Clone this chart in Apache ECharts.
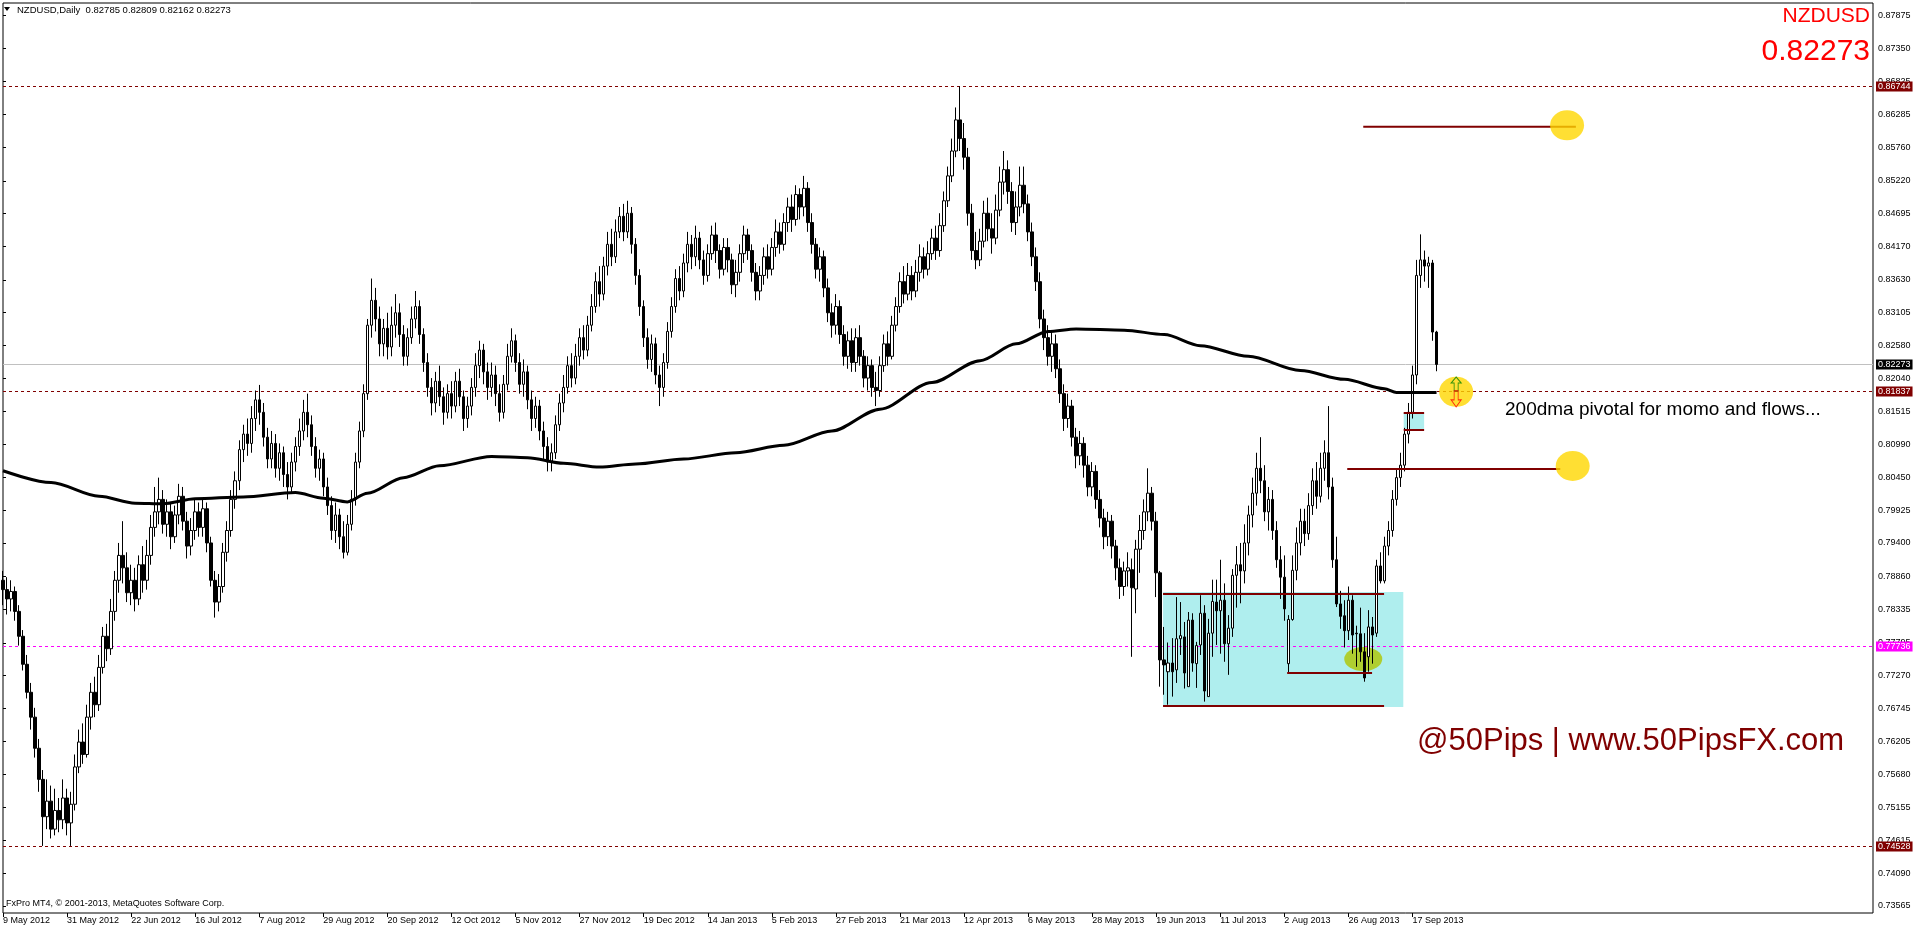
<!DOCTYPE html>
<html><head><meta charset="utf-8">
<script src="https://cdn.jsdelivr.net/npm/echarts@6/dist/echarts.min.js"></script>
<style>html,body{margin:0;padding:0;background:#fff}#c{width:1916px;height:928px}</style>
</head><body><div id="c"></div>
<script>
// x tick labels, one every 16 daily bars
const tickLabels = ['9 May 2012','31 May 2012','22 Jun 2012','16 Jul 2012','7 Aug 2012','29 Aug 2012','20 Sep 2012','12 Oct 2012','5 Nov 2012','27 Nov 2012','19 Dec 2012','14 Jan 2013','5 Feb 2013','27 Feb 2013','21 Mar 2013','12 Apr 2013','6 May 2013','28 May 2013','19 Jun 2013','11 Jul 2013','2 Aug 2013','26 Aug 2013','17 Sep 2013'];
const barsPerTick = 16;
const barSlots = 468; // bars + empty right margin (shift)
// right-axis tick values
const yTicks = [0.87875,0.87350,0.86825,0.86285,0.85760,0.85220,0.84695,0.84170,0.83630,0.83105,0.82580,0.82040,0.81515,0.80990,0.80450,0.79925,0.79400,0.78860,0.78335,0.77795,0.77270,0.76745,0.76205,0.75680,0.75155,0.74615,0.74090,0.73565];
const yMin = 0.73452, yMax = 0.88079;
// daily candles [open, close, low, high] in 1/10000
const candleValues = [
[7880,7865,7840,7895],[7865,7850,7825,7885],[7850,7862,7830,7880],[7862,7830,7815,7870],[7830,7790,7775,7840],
[7790,7745,7735,7800],[7745,7700,7690,7760],[7700,7660,7640,7715],[7660,7610,7595,7675],[7610,7560,7540,7625],
[7560,7500,7453,7575],[7500,7525,7480,7560],[7525,7480,7465,7550],[7480,7510,7470,7545],[7510,7495,7475,7530],
[7495,7530,7480,7560],[7530,7490,7470,7545],[7490,7520,7453,7540],[7520,7580,7510,7600],[7580,7620,7570,7640],
[7620,7600,7585,7650],[7600,7660,7595,7680],[7660,7700,7640,7715],[7700,7680,7660,7725],[7680,7740,7670,7760],
[7740,7790,7730,7805],[7790,7770,7750,7810],[7770,7830,7760,7850],[7830,7880,7815,7895],[7880,7920,7860,7940],
[7920,7900,7875,7975],[7900,7860,7845,7925],[7860,7880,7840,7905],[7880,7850,7830,7900],[7850,7905,7840,7920],
[7905,7880,7860,7935],[7880,7920,7865,7945],[7920,7965,7905,7985],[7965,7990,7950,8030],[7990,8010,7970,8045],
[8010,7970,7955,8025],[7970,7990,7950,8010],[7990,7950,7930,8005],[7950,7985,7940,8000],[7985,8015,7970,8035],
[8015,7975,7960,8030],[7975,7935,7915,7990],[7935,7960,7920,7980],[7960,7990,7945,8010],[7990,7965,7950,8005],
[7965,7995,7950,8010],[7995,7940,7925,8005],[7940,7880,7870,7950],[7880,7845,7820,7895],[7845,7870,7830,7890],
[7870,7925,7860,7940],[7925,7960,7910,7975],[7960,8010,7950,8025],[8010,8040,7995,8055],[8040,8090,8025,8105],
[8090,8115,8070,8130],[8115,8100,8080,8140],[8100,8140,8085,8160],[8140,8170,8120,8185],[8170,8150,8130,8194],
[8150,8110,8095,8165],[8110,8075,8060,8125],[8075,8100,8060,8120],[8100,8060,8045,8115],[8060,8085,8040,8100],
[8085,8050,8030,8095],[8050,8030,8010,8070],[8030,8070,8020,8085],[8070,8095,8055,8110],[8095,8120,8080,8140],
[8120,8150,8105,8170],[8150,8130,8110,8180],[8130,8095,8080,8145],[8095,8060,8045,8110],[8060,8075,8040,8090],
[8075,8030,8015,8085],[8030,8000,7985,8045],[8000,7960,7945,8015],[7960,7985,7940,8005],[7985,7950,7930,7995],
[7950,7925,7915,7975],[7925,7970,7920,7985],[7970,8010,7960,8025],[8010,8070,8000,8085],[8070,8120,8060,8135],
[8120,8180,8110,8195],[8180,8290,8170,8300],[8290,8330,8270,8365],[8330,8300,8280,8350],[8300,8260,8240,8320],
[8260,8285,8240,8300],[8285,8255,8235,8310],[8255,8290,8240,8320],[8290,8310,8270,8340],[8310,8275,8255,8325],
[8275,8240,8225,8290],[8240,8270,8225,8285],[8270,8300,8260,8320],[8300,8320,8285,8345],[8320,8275,8260,8330],
[8275,8230,8215,8285],[8230,8190,8175,8245],[8190,8165,8145,8205],[8165,8200,8150,8215],[8200,8175,8160,8225],
[8175,8150,8130,8190],[8150,8180,8140,8195],[8180,8160,8140,8200],[8160,8200,8150,8215],[8200,8175,8160,8220],
[8175,8140,8120,8185],[8140,8160,8125,8175],[8160,8190,8145,8205],[8190,8225,8175,8245],[8225,8250,8205,8265],
[8250,8215,8195,8260],[8215,8190,8170,8230],[8190,8210,8175,8230],[8210,8180,8160,8225],[8180,8150,8135,8195],
[8150,8195,8140,8210],[8195,8240,8185,8260],[8240,8265,8230,8285],[8265,8230,8215,8275],[8230,8195,8180,8245],
[8195,8215,8175,8235],[8215,8170,8155,8225],[8170,8140,8120,8185],[8140,8160,8125,8175],[8160,8120,8105,8170],
[8120,8095,8075,8135],[8095,8070,8055,8110],[8070,8085,8055,8100],[8085,8130,8075,8145],[8130,8165,8120,8180],
[8165,8190,8150,8210],[8190,8225,8180,8240],[8225,8205,8190,8245],[8205,8240,8195,8260],[8240,8270,8225,8285],
[8270,8250,8235,8290],[8250,8290,8240,8305],[8290,8320,8280,8340],[8320,8360,8310,8375],[8360,8340,8320,8385],
[8340,8385,8330,8400],[8385,8420,8370,8440],[8420,8400,8385,8445],[8400,8440,8390,8460],[8440,8465,8430,8480],
[8465,8440,8425,8485],[8440,8470,8430,8490],[8470,8420,8405,8480],[8420,8370,8355,8430],[8370,8320,8305,8380],
[8320,8270,8255,8330],[8270,8235,8220,8285],[8235,8260,8215,8275],[8260,8210,8195,8270],[8210,8190,8160,8225],
[8190,8230,8175,8245],[8230,8280,8220,8295],[8280,8320,8270,8335],[8320,8365,8310,8380],[8365,8345,8330,8385],
[8345,8390,8335,8405],[8390,8420,8375,8440],[8420,8400,8380,8435],[8400,8430,8385,8450],[8430,8395,8380,8440],
[8395,8370,8355,8410],[8370,8405,8360,8420],[8405,8435,8395,8450],[8435,8410,8390,8455],[8410,8380,8365,8420],
[8380,8415,8370,8430],[8415,8395,8375,8430],[8395,8355,8340,8405],[8355,8375,8335,8395],[8375,8405,8360,8420],
[8405,8435,8390,8450],[8435,8410,8395,8445],[8410,8375,8360,8420],[8375,8345,8330,8390],[8345,8370,8330,8385],
[8370,8400,8355,8415],[8400,8380,8365,8420],[8380,8415,8370,8430],[8415,8440,8400,8460],[8440,8420,8405,8455],
[8420,8455,8410,8470],[8455,8480,8440,8495],[8480,8460,8440,8500],[8460,8500,8450,8515],[8500,8480,8460,8510],
[8480,8510,8465,8530],[8510,8455,8440,8520],[8455,8420,8405,8470],[8420,8380,8365,8430],[8380,8400,8360,8415],
[8400,8350,8335,8410],[8350,8310,8295,8365],[8310,8290,8270,8325],[8290,8320,8275,8340],[8320,8275,8260,8330],
[8275,8240,8225,8290],[8240,8265,8220,8280],[8265,8230,8215,8285],[8230,8270,8215,8285],[8270,8240,8225,8290],
[8240,8205,8190,8250],[8205,8225,8185,8240],[8225,8190,8175,8235],[8190,8185,8160,8215],[8185,8225,8175,8240],
[8225,8260,8215,8275],[8260,8240,8225,8280],[8240,8290,8235,8305],[8290,8320,8280,8335],[8320,8360,8310,8375],
[8360,8340,8325,8385],[8340,8370,8330,8390],[8370,8345,8330,8385],[8345,8375,8335,8395],[8375,8400,8360,8420],
[8400,8380,8365,8415],[8380,8405,8370,8425],[8405,8430,8395,8445],[8430,8410,8395,8450],[8410,8450,8400,8470],
[8450,8490,8440,8505],[8490,8530,8480,8545],[8530,8570,8520,8590],[8570,8620,8560,8640],[8620,8590,8570,8674],
[8590,8560,8540,8615],[8560,8470,8450,8575],[8470,8410,8395,8485],[8410,8395,8380,8440],[8395,8425,8385,8445],
[8425,8470,8415,8490],[8470,8445,8425,8495],[8445,8430,8405,8470],[8430,8475,8420,8500],[8475,8520,8465,8545],
[8520,8540,8500,8570],[8540,8505,8485,8555],[8505,8455,8440,8520],[8455,8480,8435,8505],[8480,8515,8465,8545],
[8515,8485,8470,8545],[8485,8440,8425,8500],[8440,8400,8385,8455],[8400,8360,8345,8415],[8360,8300,8285,8375],
[8300,8270,8250,8315],[8270,8240,8225,8290],[8240,8260,8215,8280],[8260,8220,8205,8275],[8220,8180,8165,8235],
[8180,8140,8120,8195],[8140,8160,8125,8180],[8160,8110,8095,8170],[8110,8080,8060,8125],[8080,8100,8065,8120],
[8100,8065,8045,8110],[8065,8030,8015,8080],[8030,8055,8015,8070],[8055,8010,7995,8065],[8010,7980,7965,8025],
[7980,7950,7930,7995],[7950,7975,7935,7990],[7975,7935,7915,7985],[7935,7900,7880,7945],[7900,7870,7850,7915],
[7870,7895,7855,7910],[7895,7900,7870,7925],[7897,7868,7757,7915],[7866,7930,7827,7945],[7930,7960,7892,7985],
[7960,7990,7945,8010],[7990,8020,7975,8060],[8020,7975,7960,8030],[7975,7892,7853,7990],[7892,7752,7709,7895],
[7752,7744,7696,7805],[7733,7747,7680,7780],[7747,7733,7693,7787],[7736,7786,7715,7853],[7786,7791,7760,7845],
[7789,7731,7706,7813],[7709,7816,7709,7829],[7816,7747,7733,7827],[7746,7775,7707,7781],[7776,7827,7760,7856],
[7827,7702,7685,7840],[7693,7795,7693,7818],[7795,7846,7757,7881],[7845,7831,7776,7881],[7831,7848,7762,7913],
[7848,7778,7749,7875],[7778,7803,7728,7824],[7803,7888,7789,7898],[7888,7905,7836,7935],[7905,7895,7843,7940],
[7895,7940,7875,7970],[7940,7985,7920,8000],[7985,8020,7965,8045],[8020,8060,8000,8085],[8060,8040,8020,8110],
[8040,7990,7975,8065],[7990,8010,7960,8030],[8010,7960,7945,8025],[7960,7913,7900,7975],[7913,7885,7850,7935],
[7885,7834,7815,7920],[7746,7817,7731,7824],[7817,7896,7815,7920],[7896,7940,7880,7965],[7940,7975,7920,7995],
[7975,7955,7935,7995],[7955,8000,7945,8020],[8000,8040,7985,8060],[8040,8015,7995,8070],[8015,8060,8005,8085],
[8060,8085,8040,8105],[8085,8030,8010,8160],[8030,7913,7900,8045],[7913,7842,7837,7950],[7842,7822,7802,7863],
[7823,7799,7772,7848],[7799,7848,7784,7870],[7848,7792,7762,7856],[7795,7794,7741,7807],[7794,7765,7749,7836],
[7765,7723,7717,7795],[7757,7805,7733,7832],[7805,7792,7746,7821],[7795,7903,7789,7913],[7903,7879,7875,7925],
[7879,7935,7875,7950],[7935,7960,7920,7975],[7960,8010,7950,8025],[8010,8045,8000,8060],[8045,8065,8030,8085],
[8065,8115,8055,8125],[8115,8150,8100,8165],[8150,8210,8140,8225],[8210,8370,8195,8395],[8370,8395,8350,8436],
[8395,8385,8360,8410],[8385,8390,8350,8400],[8390,8279,8265,8395],[8279,8227,8216,8281]
];
// 200-day moving average, [bar index, value]
const ma200 = [[0,0.8056],[12,0.8037],[24,0.8015],[33,0.8004],[40,0.8003],[48,0.8011],[60,0.8014],[73,0.8021],[80,0.8012],[86,0.8006],[91,0.8020],[100,0.8045],[109,0.8064],[122,0.8079],[131,0.8077],[140,0.8068],[149,0.8062],[158,0.8067],[170,0.8075],[183,0.8085],[195,0.8097],[207,0.8120],[219,0.8155],[232,0.8198],[244,0.8233],[253,0.8260],[261,0.8280],[268,0.8284],[280,0.8282],[290,0.8275],[299,0.8257],[311,0.8240],[324,0.8217],[335,0.8203],[345,0.8188],[348,0.8182],[358,0.8182]];
// horizontal price lines
const priceLineValues = [0.86744, 0.82273, 0.81837, 0.77736, 0.74528];
const priceLineColors = ['#800000', '#c0c0c0', '#800000', '#ff00ff', '#800000'];
const priceLineLabelBg = ['#800000', '#000000', '#800000', '#ff00ff', '#800000'];
const priceLineDashed = [true, false, true, true, true];
// drawn objects in (bar index, price)
const zones = [[289.7,0.78612,349.7,0.76764],[349.8,0.81489,354.9,0.81216]];
const segments = [[289.7,344.9,0.78580],[289.7,344.9,0.76780],[320.7,341.9,0.77310],[349.8,354.9,0.81489],[349.8,354.9,0.81216],[339.7,392.8,0.86091],[335.7,388.9,0.80589]];
const yellowDots = [[390.6,0.86113],[392.0,0.80637],[362.9,0.81830]];
const olivePoints = [[339.7,0.77535]];
const upArrow = [[362.9,0.81955]];
const downArrow = [[362.9,0.81714]];

const categories = Array.from({length: barSlots}, (_, i) => String(i));
const FONT = '"Liberation Sans", Arial, sans-serif';
const chart = echarts.init(document.getElementById('c'));
const tickShown = (idx) => idx % barsPerTick === 0 && idx / barsPerTick < tickLabels.length;

chart.setOption({
  animation: false,
  backgroundColor: '#ffffff',
  grid: {left: 3, right: 43, top: 3, bottom: 15, show: true, borderColor: '#000', borderWidth: 1, backgroundColor: 'transparent', containLabel: false, outerBoundsMode: 'none'},
  xAxis: [{
    type: 'category', data: categories, boundaryGap: false,
    axisLine: {show: false},
    axisTick: {show: true, interval: (idx) => tickShown(idx), length: 4, lineStyle: {color: '#000'}},
    axisLabel: {interval: (idx) => tickShown(idx), formatter: (v, idx) => tickLabels[idx / barsPerTick] || '', align: 'left', margin: 3, fontSize: 9, fontFamily: FONT, color: '#000', hideOverlap: false},
    splitLine: {show: false}
  }, {
    type: 'value', min: 0, max: barSlots - 1, show: false
  }],
  yAxis: [{
    type: 'value', position: 'right', min: yMin, max: yMax, scale: true,
    axisLine: {show: false},
    axisTick: {show: true, customValues: yTicks, length: 3, lineStyle: {color: '#000'}},
    axisLabel: {customValues: yTicks, formatter: (v) => v.toFixed(5), margin: 5, fontSize: 9, fontFamily: FONT, color: '#000'},
    splitLine: {show: false}
  }],
  series: [
    {
      type: 'custom', xAxisIndex: 1, yAxisIndex: 0, z: 1, silent: true,
      data: zones, encode: {x: [0, 2], y: [1, 3]},
      renderItem: (params, api) => {
        const a = api.coord([api.value(0), api.value(1)]);
        const b = api.coord([api.value(2), api.value(3)]);
        return {type: 'rect', shape: {x: a[0], y: a[1], width: b[0] - a[0], height: b[1] - a[1]}, style: {fill: '#afeeee'}};
      }
    },
    {
      type: 'scatter', xAxisIndex: 1, yAxisIndex: 0, z: 1, silent: true,
      data: olivePoints, symbol: 'circle', symbolSize: [38, 24], itemStyle: {color: '#afc600'}
    },
    {
      type: 'custom', xAxisIndex: 1, yAxisIndex: 0, z: 2, silent: true, clip: false,
      data: priceLineValues.map(v => [0, v]), encode: {x: 0, y: 1},
      renderItem: (params, api) => {
        const i = params.dataIndex;
        const cs = params.coordSys;
        const y = Math.round(api.coord([0, api.value(1)])[1]) + 0.5;
        const x1 = cs.x, x2 = cs.x + cs.width;
        return {type: 'group', children: [
          {type: 'line', shape: {x1: x1, y1: y, x2: x2, y2: y}, style: {stroke: priceLineColors[i], lineWidth: 1, lineDash: priceLineDashed[i] ? [3, 3] : null}},
          {type: 'text', x: x2 + 3, y: y, z2: 10, style: {text: priceLineValues[i].toFixed(5), fill: '#fff', backgroundColor: priceLineLabelBg[i], padding: [1, 2, 0, 2], font: '9px ' + FONT, verticalAlign: 'middle', align: 'left', lineHeight: 9}}
        ]};
      }
    },
    {
      type: 'candlestick', xAxisIndex: 0, yAxisIndex: 0, z: 3, silent: true,
      barWidth: 3,
      data: candleValues.map(r => r.map(v => v / 10000)),
      itemStyle: {color: '#ffffff', color0: '#000000', borderColor: '#000000', borderColor0: '#000000', borderWidth: 1}
    },
    {
      type: 'custom', xAxisIndex: 1, yAxisIndex: 0, z: 4, silent: true,
      data: segments, encode: {x: [0, 1], y: 2},
      renderItem: (params, api) => {
        const a = api.coord([api.value(0), api.value(2)]);
        const b = api.coord([api.value(1), api.value(2)]);
        return {type: 'line', shape: {x1: a[0], y1: a[1], x2: b[0], y2: b[1]}, style: {stroke: '#800000', lineWidth: 2}};
      }
    },
    {
      type: 'line', xAxisIndex: 1, yAxisIndex: 0, z: 5, silent: true,
      data: ma200, showSymbol: false, smooth: 0.3, smoothMonotone: 'x',
      lineStyle: {color: '#000', width: 3}
    },
    {
      type: 'scatter', xAxisIndex: 1, yAxisIndex: 0, z: 6, silent: true,
      data: yellowDots, symbol: 'circle', symbolSize: [34, 30], itemStyle: {color: '#ffd700'}
    },
    {
      type: 'scatter', xAxisIndex: 1, yAxisIndex: 0, z: 7, silent: true,
      data: upArrow, symbol: 'path://M5,0 L10,6 L7,6 L7,14 L3,14 L3,6 L0,6 Z', symbolSize: [10, 14],
      itemStyle: {color: 'transparent', borderColor: '#008000', borderWidth: 1}
    },
    {
      type: 'scatter', xAxisIndex: 1, yAxisIndex: 0, z: 7, silent: true,
      data: downArrow, symbol: 'path://M3,0 L7,0 L7,9 L10,9 L5,16 L0,9 L3,9 Z', symbolSize: [10, 16],
      itemStyle: {color: 'transparent', borderColor: '#ff0000', borderWidth: 1}
    }
  ],
  graphic: [
    {type: 'polygon', shape: {points: [[4, 7], [10, 7], [7, 11]]}, style: {fill: '#000'}, z: 10},
    {type: 'text', x: 17, y: 10, z: 10, style: {text: 'NZDUSD,Daily  0.82785 0.82809 0.82162 0.82273', font: '9.5px ' + FONT, fill: '#000', textVerticalAlign: 'middle'}},
    {type: 'text', x: 1870, y: 16, z: 10, style: {text: 'NZDUSD', font: '21px ' + FONT, fill: '#ff0000', textAlign: 'right', textVerticalAlign: 'middle'}},
    {type: 'text', x: 1870, y: 52, z: 10, style: {text: '0.82273', font: '30px ' + FONT, fill: '#ff0000', textAlign: 'right', textVerticalAlign: 'middle'}},
    {type: 'text', x: 6, y: 904, z: 10, style: {text: 'FxPro MT4, \u00a9 2001-2013, MetaQuotes Software Corp.', font: '9px ' + FONT, fill: '#000', textVerticalAlign: 'middle'}},
    {type: 'text', x: 1505, y: 410, z: 10, style: {text: '200dma pivotal for momo and flows...', font: '19px ' + FONT, fill: '#000', textVerticalAlign: 'middle'}},
    {type: 'text', x: 1417, y: 741, z: 10, style: {text: '@50Pips | www.50PipsFX.com', font: '31px ' + FONT, fill: '#800000', textVerticalAlign: 'middle'}}
  ]
});
</script>
</body></html>
